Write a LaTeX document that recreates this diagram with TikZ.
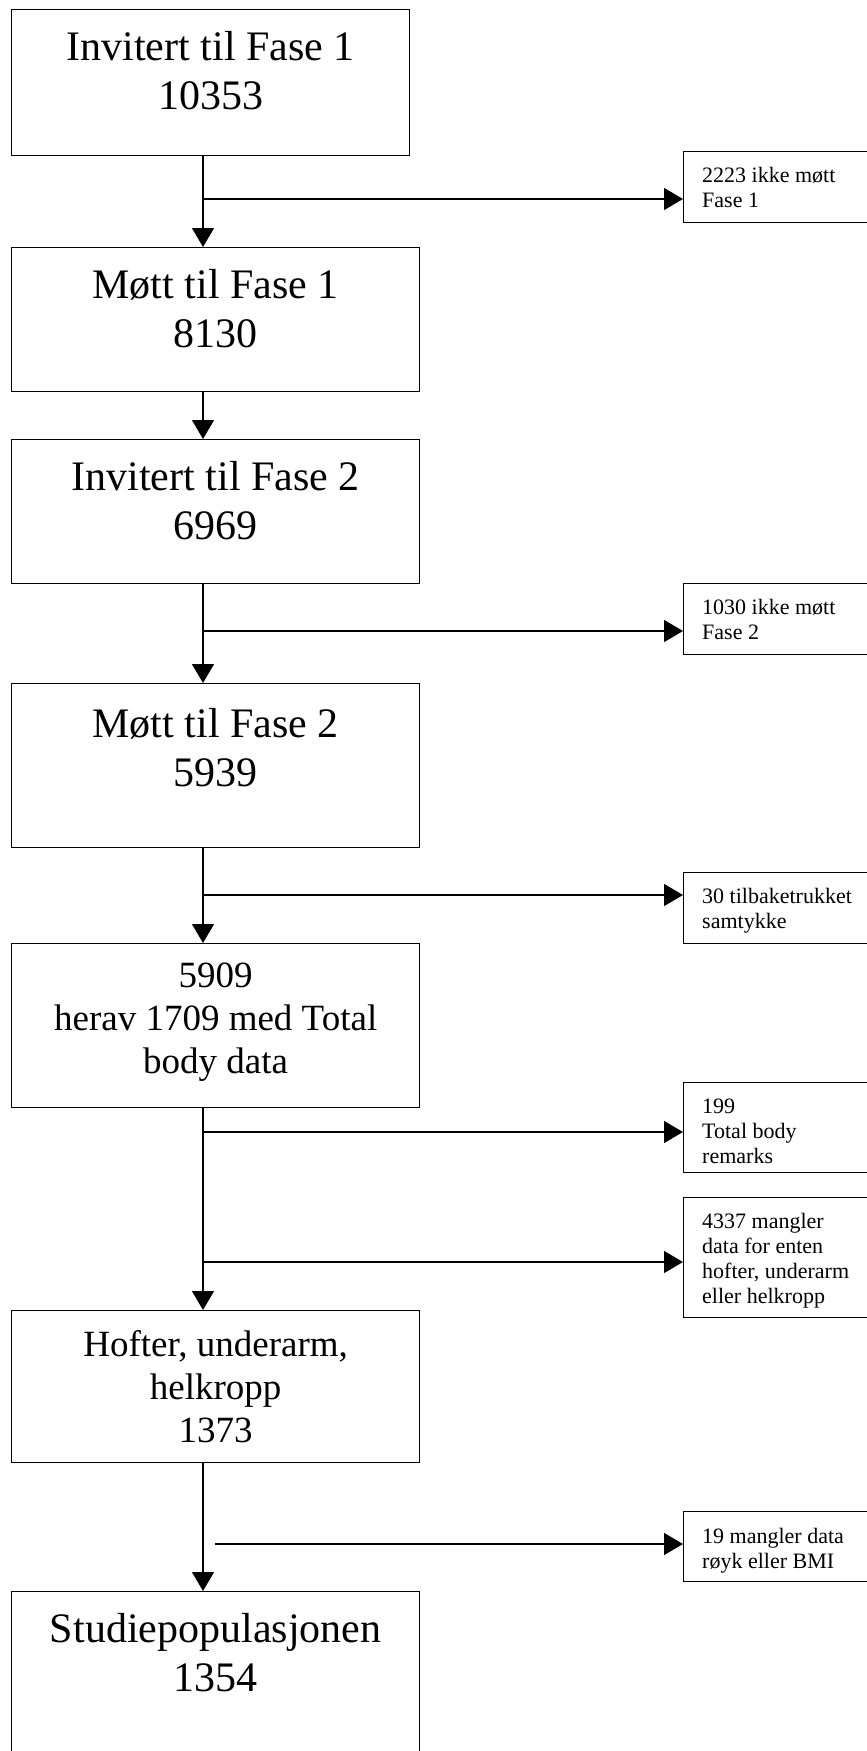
\documentclass[tikz,border=0pt]{standalone}
\usepackage{fontspec}
\setmainfont{Liberation Serif}
\usetikzlibrary{positioning,arrows.meta}

\begin{document}
\begin{tikzpicture}[x=1pt,y=-1pt,
  mainbox/.style={draw,line width=1.3pt,anchor=north west,minimum width=408pt,inner sep=0pt},
  sidebox/.style={draw,line width=1.3pt,anchor=north west,minimum width=200pt,inner sep=0pt},
  bigtext/.style={align=center,inner sep=0pt,font=\fontsize{42}{49}\selectfont},
  midtext/.style={align=center,inner sep=0pt,font=\fontsize{37}{43}\selectfont},
  smalltext/.style={align=left,inner sep=0pt,font=\fontsize{22}{25}\selectfont},
  arr/.style={line width=1.3pt,-{Triangle[length=19pt,width=22pt]}}]
% Page frame
\clip (0,0) rectangle (867,1751);
% Main column
\node[mainbox,minimum width=398pt,minimum height=146pt] (inv1) at (11,9) {};
\node[mainbox,minimum height=144pt] (mott1) at (11,247) {};
\node[mainbox,minimum height=144pt] (inv2) at (11,439) {};
\node[mainbox,minimum height=164pt] (mott2) at (11,683) {};
\node[mainbox,minimum height=164pt] (herav) at (11,943) {};
\node[mainbox,minimum height=152pt] (hofter) at (11,1310) {};
\node[mainbox,minimum height=200pt] (studie) at (11,1591) {};
\node[bigtext,below=22pt of inv1.north] (inv1txt) {Invitert til Fase 1\\10353};
\node[bigtext,below=22pt of mott1.north] (mott1txt) {Møtt til Fase 1\\8130};
\node[bigtext,below=22pt of inv2.north] (inv2txt) {Invitert til Fase 2\\6969};
\node[bigtext,below=25pt of mott2.north] (mott2txt) {Møtt til Fase 2\\5939};
\node[midtext,below=20pt of herav.north] (heravtxt) {5909\\herav 1709 med Total\\body data};
\node[midtext,below=20pt of hofter.north] (hoftertxt) {Hofter, underarm,\\helkropp\\1373};
\node[bigtext,below=22pt of studie.north] (studietxt) {Studiepopulasjonen\\1354};
% Drop-out boxes
\node[sidebox,minimum height=71pt] (nomet1) at (683,151) {};
\node[sidebox,minimum height=71pt] (nomet2) at (683,583) {};
\node[sidebox,minimum height=71pt] (trukket) at (683,872) {};
\node[sidebox,minimum height=90pt] (remarks) at (683,1082) {};
\node[sidebox,minimum height=120pt] (mangler) at (683,1197) {};
\node[sidebox,minimum height=70pt] (royk) at (683,1511) {};
\node[smalltext,below right=16pt and 19pt of nomet1.north west] (nomet1txt) {2223 ikke møtt\\Fase 1};
\node[smalltext,below right=16pt and 19pt of nomet2.north west] (nomet2txt) {1030 ikke møtt\\Fase 2};
\node[smalltext,below right=16pt and 19pt of trukket.north west] (trukkettxt) {30 tilbaketrukket\\samtykke};
\node[smalltext,below right=17pt and 19pt of remarks.north west] (remarkstxt) {199\\Total body\\remarks};
\node[smalltext,below right=16pt and 19pt of mangler.north west] (manglertxt) {4337 mangler\\data for enten\\hofter, underarm\\eller helkropp};
\node[smalltext,below right=17pt and 19pt of royk.north west] (royktxt) {19 mangler data\\røyk eller BMI};
% Flow down the column
\coordinate (spine) at (203,0);
\draw[arr] (inv1.south -| spine) -- (mott1.north -| spine);
\draw[arr] (mott1.south -| spine) -- (inv2.north -| spine);
\draw[arr] (inv2.south -| spine) -- (mott2.north -| spine);
\draw[arr] (mott2.south -| spine) -- (herav.north -| spine);
\draw[arr] (herav.south -| spine) -- (hofter.north -| spine);
\draw[arr] (hofter.south -| spine) -- (studie.north -| spine);
% Branches to the right
\coordinate (b1) at (203,199);
\coordinate (b2) at (203,631);
\coordinate (b3) at (203,895);
\coordinate (b4) at (203,1132);
\coordinate (b5) at (203,1262);
\coordinate (b6) at (215,1544);
\draw[arr] (b1) -- (b1 -| nomet1.west);
\draw[arr] (b2) -- (b2 -| nomet2.west);
\draw[arr] (b3) -- (b3 -| trukket.west);
\draw[arr] (b4) -- (b4 -| remarks.west);
\draw[arr] (b5) -- (b5 -| mangler.west);
\draw[arr] (b6) -- (b6 -| royk.west);
\end{tikzpicture}
\end{document}
